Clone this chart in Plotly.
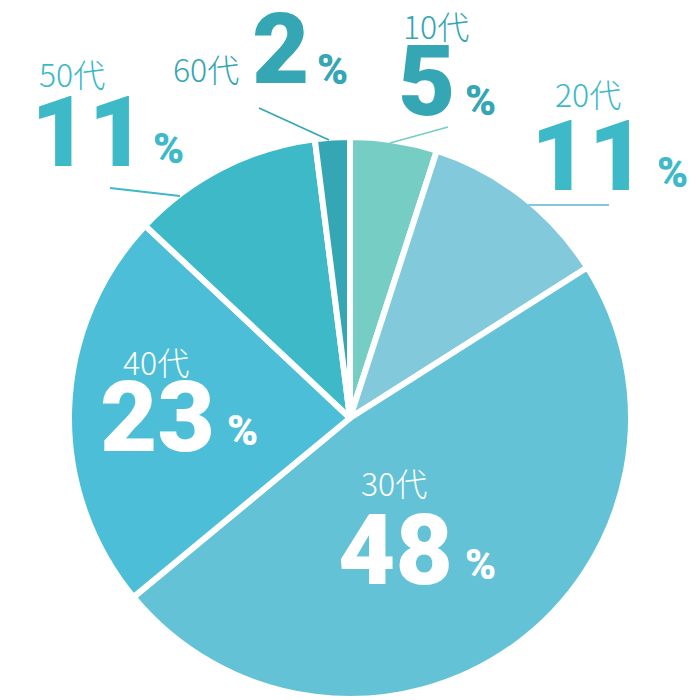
import plotly.graph_objects as go

# data
ages = ["10代", "20代", "30代", "40代", "50代", "60代"]
shares = [5, 11, 48, 23, 11, 2]
slice_colors = ["#76CDC3", "#82CADB", "#64C2D7", "#4CBED7", "#3DB9C8", "#35A6B4"]
label_colors = ["#35A6B4", "#3DB9C8", "#FFFFFF", "#FFFFFF", "#3DB9C8", "#35A6B4"]

# label placement in pixels (age label, number, % sign)
age_pos = [(436, 25), (588, 93), (394, 482), (156, 361), (72, 73), (206, 68)]
num_pos = [(426, 81), (588, 156), (395, 550), (157, 417), (88, 132), (280, 49)]
pct_pos = [(480, 100), (672, 172), (480, 564), (242, 430), (168, 149), (332, 70)]
leaders = {0: ((448, 127), (390, 143)), 1: ((527, 205), (609, 205)),
           4: ((110, 188), (180, 196)), 5: ((259, 108), (329, 140))}

W = H = 700
OFF = 8  # page body margin


def px(x):
    return (x - OFF) / W


def py(y):
    return 1 - (y - OFF) / H


fig = go.Figure(go.Pie(
    labels=ages, values=shares, sort=False, direction="clockwise", rotation=0,
    marker=dict(colors=slice_colors, line=dict(color="white", width=6)),
    textinfo="none", hoverinfo="label+percent", showlegend=False,
    domain=dict(x=[px(68), px(632)], y=[py(699), py(137)]),
))

ann = []
for i, age in enumerate(ages):
    c = label_colors[i]
    ann.append(dict(x=px(age_pos[i][0]), y=py(age_pos[i][1]), text=age,
                    font=dict(family="Noto Sans CJK JP", size=32, color=c, weight=300)))
    ann.append(dict(x=px(num_pos[i][0]), y=py(num_pos[i][1]), text=str(shares[i]),
                    font=dict(family="Roboto", size=99, color=c, weight=900)))
    ann.append(dict(x=px(pct_pos[i][0]), y=py(pct_pos[i][1]), text="%",
                    font=dict(family="Roboto", size=42, color=c, weight=900)))
for a in ann:
    a.update(xref="paper", yref="paper", xanchor="center", yanchor="middle", showarrow=False)

shapes = []
for i, ((x0, y0), (x1, y1)) in leaders.items():
    shapes.append(dict(type="line", xref="paper", yref="paper",
                       x0=px(x0), y0=py(y0), x1=px(x1), y1=py(y1),
                       line=dict(color=slice_colors[i], width=1.8)))

fig.update_layout(width=W, height=H, margin=dict(l=0, r=0, t=0, b=0),
                  paper_bgcolor="white", plot_bgcolor="white",
                  annotations=ann, shapes=shapes)
fig.write_html("out.html")
